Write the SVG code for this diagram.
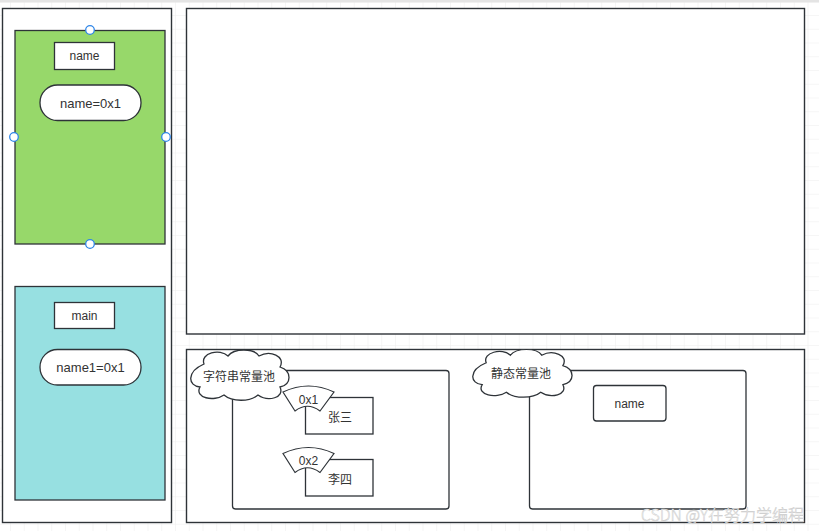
<svg xmlns="http://www.w3.org/2000/svg" width="819" height="531" viewBox="0 0 819 531">
<defs>
<pattern id="grid" x="10" y="1.25" width="13.75" height="13.75" patternUnits="userSpaceOnUse">
<path d="M 0 0 L 13.75 0 M 0 0 L 0 13.75" fill="none" stroke="#eeeeee" stroke-width="1.2"/>
</pattern>
<path id="cloud" d="M 18 14 C 14 3, 34 -2, 42 6 C 48 -2, 68 -2, 73 6 C 84 0, 100 6, 94 17 C 106 21, 106 34, 94 37 C 99 48, 82 52, 72 45 C 64 52, 46 52, 38 45 C 28 52, 8 48, 14 37 C 2 36, 0 22, 18 14 Z"/>
</defs>
<style>
.panel{fill:#ffffff;stroke:#2e3338;stroke-width:1.4}
.box{fill:#ffffff;stroke:#2e3338;stroke-width:1.3}
.t{font-family:"Liberation Sans","Noto Sans CJK SC",sans-serif;font-size:12px;fill:#333333;text-anchor:middle;dominant-baseline:central}
.cjk{font-family:"Noto Sans CJK SC","Liberation Sans",sans-serif;font-size:12px;fill:#333333;text-anchor:middle;dominant-baseline:central}
.handle{fill:#ffffff;stroke:#2f86e8;stroke-width:1.3}
</style>
<rect x="0" y="0" width="819" height="531" fill="#ffffff"/>
<rect x="0" y="0" width="819" height="531" fill="url(#grid)"/>
<rect x="0" y="0" width="819" height="2.5" fill="#e4e4e4"/>

<g id="stack-panel">
<rect class="panel" x="2.5" y="8.5" width="169" height="514"/>
</g>
<g id="frame-name">
<rect x="15" y="30.5" width="150" height="213.5" fill="#97d86a" stroke="#2e3338" stroke-width="1.3"/>
<rect class="box" x="54.5" y="42.5" width="60" height="27"/>
<text class="t" x="84.5" y="56">name</text>
<rect class="box" x="40" y="85" width="101" height="35.5" rx="17.5"/>
<text class="t" x="90.5" y="103" style="font-size:13px">name=0x1</text>
<circle class="handle" cx="90" cy="30" r="4.3"/>
<circle class="handle" cx="14" cy="137" r="4.3"/>
<circle class="handle" cx="166" cy="137" r="4.3"/>
<circle class="handle" cx="90" cy="244" r="4.3"/>
</g>
<g id="frame-main">
<rect x="15" y="286.5" width="150" height="213.5" fill="#97e0e1" stroke="#2e3338" stroke-width="1.3"/>
<rect class="box" x="54.5" y="302.5" width="60" height="26"/>
<text class="t" x="84.5" y="316">main</text>
<rect class="box" x="40" y="349.5" width="101" height="35.5" rx="17.5"/>
<text class="t" x="90.5" y="367" style="font-size:13px">name1=0x1</text>
</g>
<g id="heap-panel">
<rect class="panel" x="186.5" y="8.5" width="618" height="325.5"/>
</g>
<g id="method-area">
<rect class="panel" x="186.5" y="349.5" width="618" height="173"/>
</g>
<g id="string-pool">
<rect class="box" x="232.5" y="370.5" width="216.5" height="138.5" rx="3"/>
<use href="#cloud" transform="translate(186,350)" fill="#ffffff" stroke="#2e3338" stroke-width="1.3"/>
<text class="cjk" x="239" y="375.5">字符串常量池</text>
</g>
<g id="str-zhangsan">
<rect class="box" x="305.5" y="397.5" width="67.5" height="36.5"/>
<path d="M 283 392 Q 308.5 380 334 392 L 320 411 Q 307.5 401.5 295 411 Z" fill="#ffffff" stroke="#2e3338" stroke-width="1.2"/>
<text class="t" x="308.5" y="399.5">0x1</text>
<text class="cjk" x="340" y="416">张三</text>
</g>
<g id="str-lisi">
<rect class="box" x="305.5" y="459.5" width="67.5" height="36.5"/>
<path d="M 283 453.5 Q 308.5 441.5 334 453.5 L 320 472.5 Q 307.5 463 295 472.5 Z" fill="#ffffff" stroke="#2e3338" stroke-width="1.2"/>
<text class="t" x="308.5" y="460.5">0x2</text>
<text class="cjk" x="340" y="478">李四</text>
</g>
<g id="static-pool">
<rect class="box" x="529.5" y="370.5" width="216.5" height="138.5" rx="3"/>
<use href="#cloud" transform="translate(468,349.5) scale(1.01,0.95)" fill="#ffffff" stroke="#2e3338" stroke-width="1.3"/>
<text class="cjk" x="521" y="372.5">静态常量池</text>
</g>
<g id="static-name">
<rect class="box" x="593.5" y="385.5" width="72.5" height="35.5" rx="3"/>
<text class="t" x="629.5" y="404">name</text>
</g>
<text x="804" y="521" font-family="Noto Sans CJK SC, Liberation Sans, sans-serif" font-size="16" font-weight="300" fill="#ffffff" stroke="#c8c8c8" stroke-width="0.45" text-anchor="end">CSDN @Y在努力学编程</text>
</svg>
